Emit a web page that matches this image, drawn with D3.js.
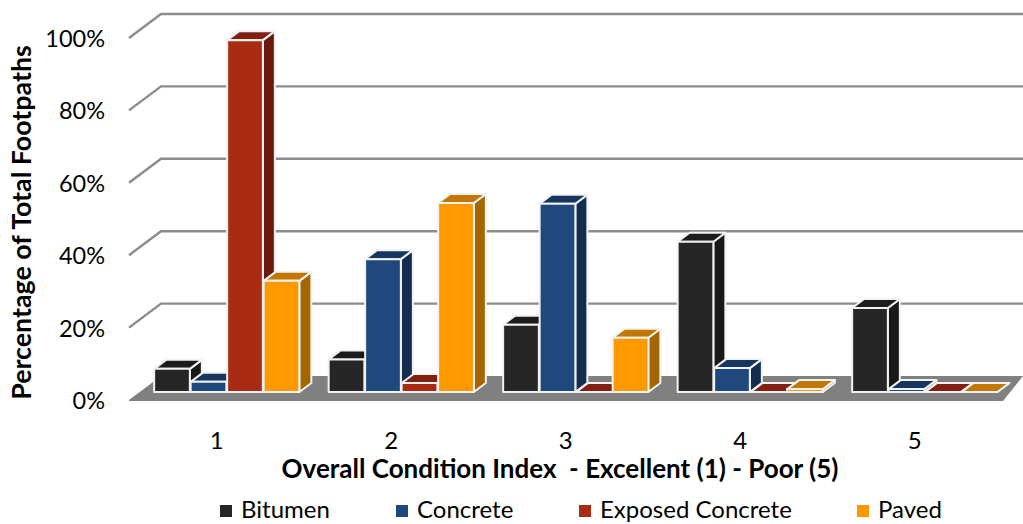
<!DOCTYPE html>
<html><head><meta charset="utf-8">
<script src="https://cdn.jsdelivr.net/npm/d3@7/dist/d3.min.js"></script>
<style>html,body{margin:0;padding:0;background:#fff;overflow:hidden}svg{display:block}text{font-family:Lato,"Open Sans",sans-serif;fill:#000}</style>
</head><body><svg id="c" width="1023" height="524"></svg>
<script>
const categories=["1","2","3","4","5"];
const seriesNames=["Bitumen","Concrete","Exposed Concrete","Paved"];
const bitumen=[6.4,9,18.6,41.5,23.2];
const concrete=[2.8,36.7,52,6.6,0.8];
const exposed=[97.2,2.5,0,0,0];
const paved=[30.7,52.2,15,0.8,0];
const seriesValues=[bitumen,concrete,exposed,paved];
const yTicks=[0,20,40,60,80,100];
const frontColors=["#262626","#1f497d","#a92b14","#ff9900"];
const topColors=["#1c1c1c","#17365d","#7f2010","#c27800"];
const sideColors=["#191919","#132c52","#6a1a0c","#a36600"];

const svg=d3.select("#c");
const dx=32,dy=24,bdx=12,bdy=9;
const yAxis=d3.scaleLinear().domain([0,100]).range([400,38]);
const yBar=d3.scaleLinear().domain([0,100]).range([392,30]);
const x0=d3.scaleBand().domain(categories).range([139.5,1012]);
const x1=d3.scaleBand().domain(d3.range(4)).range([-73,73]);

// floor
svg.append("path")
  .attr("d",d3.line()([[129,400],[129+dx,376],[1023,376],[1003,401],[129,401]])+"Z")
  .attr("fill","#808080");

// gridlines
const grid=svg.append("g").attr("fill","none").attr("stroke","#8c8c8c").attr("stroke-width",2.4);
yTicks.forEach(t=>{
  const y=yAxis(t);
  if(t>0) grid.append("path").attr("d",d3.line()([[129,y],[129+dx,y-dy],[1023,y-dy]]));
});

// bars
const bars=svg.append("g").attr("stroke","#f2f2f2").attr("stroke-width",2).attr("stroke-linejoin","round");
categories.forEach((c,i)=>{
  seriesValues.forEach((vals,s)=>{
    const l=x0(c)+x0.bandwidth()/2+x1(s)+0.4, r=l+x1.bandwidth()-0.8;
    const t=yBar(vals[i]), b=yBar(0);
    bars.append("path").attr("fill",sideColors[s])
      .attr("d",d3.line()([[r,b],[r+bdx,b-bdy],[r+bdx,t-bdy],[r,t]])+"Z");
    bars.append("path").attr("fill",topColors[s])
      .attr("d",d3.line()([[l,t],[r,t],[r+bdx,t-bdy],[l+bdx,t-bdy]])+"Z");
    bars.append("rect").attr("fill",frontColors[s])
      .attr("x",l).attr("y",t).attr("width",r-l).attr("height",b-t);
  });
});

// y tick labels
svg.append("g").selectAll("text").data(yTicks).join("text")
  .attr("x",105).attr("y",d=>yAxis(d)+9).attr("text-anchor","end")
  .attr("font-size",23.5).text(d=>d+"%");

// x tick labels
svg.append("g").selectAll("text").data(categories).join("text")
  .attr("x",d=>x0(d)+x0.bandwidth()/2-10).attr("y",449).attr("text-anchor","middle")
  .attr("font-size",24).text(d=>d);

// axis titles
svg.append("text").attr("x",560).attr("y",478).attr("text-anchor","middle")
  .attr("font-size",26).attr("font-weight",700).attr("xml:space","preserve")
  .text("Overall Condition Index  - Excellent (1) - Poor (5)");
svg.append("text").attr("transform","translate(31,222.5) rotate(-90)").attr("text-anchor","middle")
  .attr("font-size",26.8).attr("font-weight",700).text("Percentage of Total Footpaths");

// legend
const legendX=[220,396,579,857];
const leg=svg.append("g").selectAll("g").data(seriesNames).join("g")
  .attr("transform",(d,i)=>`translate(${legendX[i]},505)`);
leg.append("rect").attr("width",12).attr("height",12).attr("fill",(d,i)=>frontColors[i]).attr("y",0);
leg.append("text").attr("x",21).attr("y",13).attr("font-size",24).text(d=>d);
</script></body></html>
